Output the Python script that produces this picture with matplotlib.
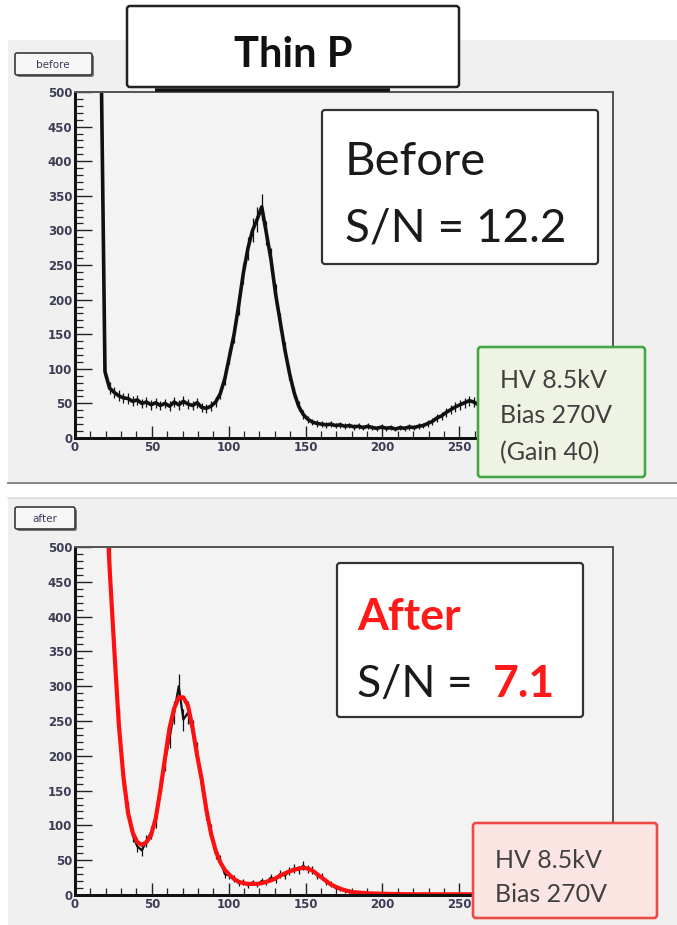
import numpy as np
import matplotlib
matplotlib.use("Agg")
import matplotlib.pyplot as plt
from matplotlib.patches import Rectangle, FancyBboxPatch

plt.rcParams['font.family'] = ['Lato', 'DejaVu Sans']

# ---------------- data ----------------
bin_width = 3.0

# "before" spectrum: bin contents starting at x = 16.5
before_start = 16.5
before_counts = [
    640, 96, 72, 66, 61, 58, 57, 53, 55, 50, 52, 48, 51, 47, 50, 46, 52, 48, 53, 49,
    47, 51, 44, 43, 46, 52, 64, 86, 118, 150, 192, 238, 274, 300, 316, 334, 296, 258, 208, 168,
    128, 94, 66, 46, 34, 27, 23, 21, 20, 19, 20, 18, 19, 17, 18, 16, 17, 15, 17, 15,
    14, 16, 14, 15, 13, 15, 14, 16, 15, 17, 18, 21, 24, 29, 32, 37, 41, 45, 48, 51,
    54, 52, 48, 42, 36, 29, 24, 19, 15, 12, 10, 8, 7, 6, 5, 5, 4, 4, 3, 3,
    3, 2, 2, 2, 2, 1, 1, 1, 1, 1, 1, 1,
]

# "after" spectrum and its fit, both starting at x = 19.5
after_start = 19.5
after_counts = [
    610, 478, 350, 252, 164, 122, 86, 70, 64, 78, 90, 106, 156, 192, 226, 262, 300, 252, 262, 236,
    205, 160, 118, 92, 60, 50, 30, 28, 24, 17, 19, 14, 18, 15, 20, 18, 25, 22, 30, 28,
    34, 38, 36, 42, 37, 36, 28, 26, 18, 16, 10, 9, 6, 6, 3, 4, 3, 2, 3, 2,
    2, 3, 1, 2, 2, 1, 2, 1, 1, 2, 1, 1, 1, 1, 1, 1, 1, 1, 1, 1,
    1, 1, 1, 1, 1, 1, 1, 1, 1, 1, 1, 1, 1, 1, 1, 1, 1, 1, 1, 1,
    1, 1, 1, 1, 1, 1, 1, 1, 1, 1, 1,
]
after_fit = [
    600, 470, 355, 245, 170, 118, 90, 76, 72, 76, 86, 110, 150, 196, 240, 268, 284, 284, 272, 240,
    200, 165, 122, 88, 64, 47, 36, 29, 23, 19, 17, 16, 16, 16, 17, 19, 21, 24, 28, 31,
    34, 36, 38, 39, 38, 35, 30, 25, 20, 15, 12, 9, 7, 5, 4, 3.5, 3, 2.5, 2.2, 2,
    1.8, 1.6, 1.5, 1.4, 1.3, 1.2, 1.1, 1, 1, 1, 1, 1, 1, 1, 1, 1, 1, 1, 1, 1,
    1, 1, 1, 1, 1, 1, 1, 1, 1, 1, 1, 1, 1, 1, 1, 1, 1, 1, 1, 1,
    1, 1, 1, 1, 1, 1, 1, 1, 1, 1, 1,
]

x_range = (0, 350)
y_range = (0, 500)
x_ticks = [0, 50, 100, 150, 200, 250, 300, 350]
x_tick_labels = ["0", "50", "100", "150", "200", "250", "", ""]
y_ticks = [0, 50, 100, 150, 200, 250, 300, 350, 400, 450, 500]

title = "Thin P"
before_label = ["Before", "S/N = 12.2"]
after_label = ["After", "S/N = ", "7.1"]
before_settings = ["HV 8.5kV", "Bias 270V", "(Gain 40)"]
after_settings = ["HV 8.5kV", "Bias 270V"]

# ---------------- figure ----------------
W, H = 677, 925
fig = plt.figure(figsize=(W / 100, H / 100), dpi=100)
fig.patch.set_facecolor("white")

PX = 72 / 100  # points per pixel


def frac(x0, y0, x1, y1):
    """Pixel box (top-left origin) to figure fraction rect."""
    return [x0 / W, 1 - y1 / H, (x1 - x0) / W, (y1 - y0) / H]


# background canvas panels
bg = fig.add_axes([0, 0, 1, 1], zorder=0)
bg.set_xlim(0, W)
bg.set_ylim(H, 0)
bg.axis("off")
bg.add_patch(Rectangle((8, 40), W - 8, 443, facecolor="#f0f0f0", edgecolor="none"))
bg.plot([8, W], [483, 483], color="#8a8a8a", lw=2 * PX)
bg.add_patch(Rectangle((8, 498), W - 8, H - 498, facecolor="#f0f0f0", edgecolor="none"))
bg.plot([8, W], [498, 498], color="#d8d8d8", lw=1.5 * PX)


def make_axes(rect):
    ax = fig.add_axes(rect, zorder=5)
    ax.set_facecolor("#f3f3f3")
    ax.set_xlim(*x_range)
    ax.set_ylim(*y_range)
    ax.set_xticks(x_ticks)
    ax.set_xticklabels(x_tick_labels)
    ax.set_yticks(y_ticks)
    ax.set_xticks(np.arange(0, 351, 10), minor=True)
    ax.set_yticks(np.arange(0, 501, 10), minor=True)
    ax.tick_params(which="major", direction="in", length=12, width=1.0, color="#222222",
                   labelsize=8.5, labelcolor="#3c3c55", pad=2)
    ax.tick_params(which="minor", direction="in", length=6, width=0.9, color="#222222")
    ax.tick_params(axis="x", which="major", length=9)
    ax.tick_params(axis="x", which="minor", length=5)
    for lab in ax.get_xticklabels() + ax.get_yticklabels():
        lab.set_fontweight("bold")
        lab.set_fontfamily(["DejaVu Sans"])
    for side in ("left", "bottom"):
        ax.spines[side].set_linewidth(3 * PX)
        ax.spines[side].set_color("#111111")
    for side in ("top", "right"):
        ax.spines[side].set_linewidth(2 * PX)
        ax.spines[side].set_color("#555555")
    return ax


# top: before
ax1 = make_axes(frac(75, 92, 613, 438))
xb = before_start + bin_width * np.arange(len(before_counts))
yb = np.array(before_counts, dtype=float)
ax1.errorbar(xb, yb, yerr=np.sqrt(yb), fmt="none", ecolor="#111111", elinewidth=0.9)
ax1.plot(xb, yb, color="#111111", lw=2.6)

# bottom: after
ax2 = make_axes(frac(75, 547, 613, 895))
xa = after_start + bin_width * np.arange(len(after_counts))
ya = np.array(after_counts, dtype=float)
ax2.errorbar(xa, ya, yerr=np.sqrt(ya), fmt="none", ecolor="#111111", elinewidth=0.9)
ax2.plot(xa, ya, color="#111111", lw=1.6)
ax2.plot(xa, after_fit, color="#ff1010", lw=3.0)

# overlay with annotation boxes, in pixel coordinates
ov = fig.add_axes([0, 0, 1, 1], zorder=10)
ov.set_xlim(0, W)
ov.set_ylim(H, 0)
ov.axis("off")
ov.patch.set_alpha(0)


def box(x0, y0, x1, y1, face, edge, lw, r=3):
    ov.add_patch(FancyBboxPatch((x0, y0), x1 - x0, y1 - y0,
                                boxstyle=f"round,pad=0,rounding_size={r}",
                                facecolor=face, edgecolor=edge, lw=lw * PX))


# small pad labels
box(17, 55, 94, 77, "#7a7a7a", "none", 0, r=2)
box(15, 53, 92, 75, "#f7f7f7", "#333333", 1.6, r=2)
ov.text(53, 64.5, "before", ha="center", va="center", fontsize=7.5, color="#3a3a5a",
        family=["DejaVu Sans"])
box(17, 509, 77, 531, "#7a7a7a", "none", 0, r=2)
box(15, 507, 75, 529, "#f7f7f7", "#333333", 1.6, r=2)
ov.text(45, 518.5, "after", ha="center", va="center", fontsize=7.5, color="#3a3a5a",
        family=["DejaVu Sans"])

# title box with its shadow
ov.plot([155, 390], [90, 90], color="#111111", lw=3.5 * PX, solid_capstyle="butt")
box(127, 6, 459, 87, "white", "#222222", 2.5)
ov.text(293, 67, title, ha="center", va="baseline", fontsize=30, fontweight="bold",
        color="#111111")

# before S/N box
box(322, 110, 598, 264, "white", "#333333", 2.2)
ov.text(345, 175, before_label[0], ha="left", va="baseline", fontsize=34, color="#1a1a1a")
ov.text(345, 242, before_label[1], ha="left", va="baseline", fontsize=33, color="#1a1a1a")

# after S/N box
box(337, 563, 583, 717, "white", "#333333", 2.2)
ov.text(357, 630, after_label[0], ha="left", va="baseline", fontsize=32, fontweight="bold",
        color="#ff1a1a")
ov.text(357, 697, after_label[1], ha="left", va="baseline", fontsize=32, color="#1a1a1a")
ov.text(493, 697, after_label[2], ha="left", va="baseline", fontsize=32, fontweight="bold",
        color="#ff1a1a")

# settings boxes
box(478, 347, 645, 477, "#eff3e4", "#43a843", 2.6)
for txt, yy in zip(before_settings, [388, 423, 460]):
    ov.text(500, yy, txt, ha="left", va="baseline", fontsize=18, color="#404040")

box(473, 823, 657, 918, "#fae5e3", "#ee4a44", 2.6)
for txt, yy in zip(after_settings, [868, 902]):
    ov.text(495, yy, txt, ha="left", va="baseline", fontsize=18, color="#404040")

fig.savefig("out.png", dpi=100)
